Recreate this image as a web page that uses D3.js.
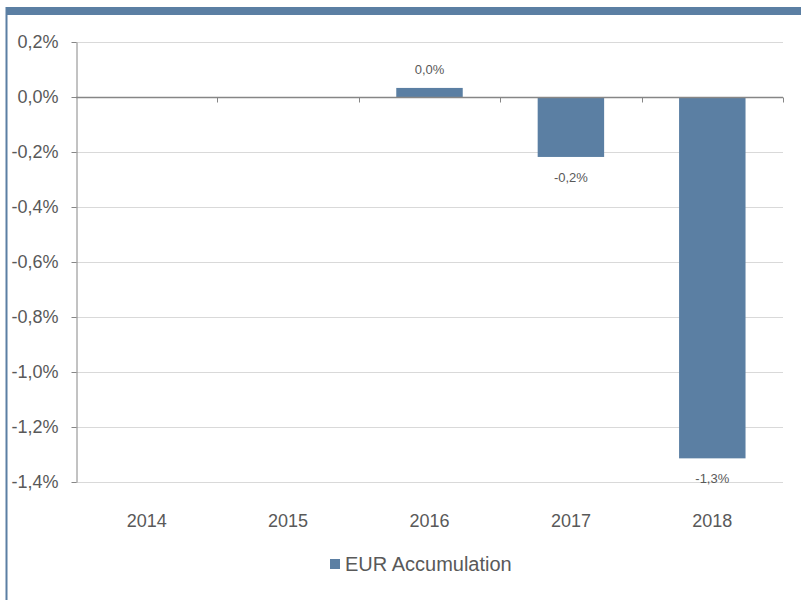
<!DOCTYPE html>
<meta charset="utf-8">
<style>
body { margin: 0; background: #fff; }
text { font-family: "Liberation Sans", Arial, sans-serif; fill: #595959; }
</style>
<body>
<script src="https://d3js.org/d3.v7.min.js"></script>
<script>

var years = ["2014", "2015", "2016", "2017", "2018"];
var values = [null, null, 0.033, -0.218, -1.314];
var labels = ["", "", "0,0%", "-0,2%", "-1,3%"];
var yTicks = [0.2, 0, -0.2, -0.4, -0.6, -0.8, -1.0, -1.2, -1.4];
var seriesName = "EUR Accumulation";

var width = 801, height = 600;
var barColor = "#5b7fa3";
var margin = {top: 42, right: 18, bottom: 118, left: 76};

var svg = d3.select("body").append("svg")
    .attr("width", width)
    .attr("height", height);

// frame: top band and left rule
svg.append("rect")
    .attr("x", 6).attr("y", 7)
    .attr("width", width - 6).attr("height", 8)
    .attr("fill", barColor);
svg.append("line")
    .attr("x1", 6.5).attr("x2", 6.5)
    .attr("y1", 7).attr("y2", height)
    .attr("stroke", barColor).attr("stroke-width", 2);

var x = d3.scaleBand()
    .domain(years)
    .range([margin.left, width - margin.right])
    .paddingInner(0.53)
    .paddingOuter(0.265);

var xb = d3.scaleBand()
    .domain(years)
    .range([margin.left, width - margin.right]);

var y = d3.scaleLinear()
    .domain([-1.4, 0.2])
    .range([height - margin.bottom, margin.top]);

var fmt = d => d3.format(".1f")(d).replace(".", ",").replace("−", "-") + "%";

// gridlines
svg.append("g")
  .selectAll("line")
  .data(yTicks.filter(d => d !== 0))
  .join("line")
    .attr("x1", margin.left).attr("x2", width - margin.right)
    .attr("y1", d => Math.round(y(d)) + 0.5)
    .attr("y2", d => Math.round(y(d)) + 0.5)
    .attr("stroke", "#d9d9d9");

// y axis
var yAxis = svg.append("g")
    .attr("transform", `translate(${margin.left + 0.5},0)`)
    .call(d3.axisLeft(y).tickValues(yTicks).tickFormat(fmt).tickSize(5).tickPadding(13).tickSizeOuter(0));
yAxis.select(".domain").attr("stroke", "#868686");
yAxis.selectAll(".tick line").attr("stroke", "#868686");
yAxis.selectAll(".tick text")
    .attr("font-size", 18)
    .attr("fill", "#595959")
    .style("font-family", "'Liberation Sans', Arial, sans-serif");

// bars
svg.append("g")
  .selectAll("rect")
  .data(values.map((v, i) => ({year: years[i], v: v})).filter(d => d.v !== null))
  .join("rect")
    .attr("x", d => x(d.year))
    .attr("width", x.bandwidth())
    .attr("y", d => y(Math.max(0, d.v)))
    .attr("height", d => Math.abs(y(d.v) - y(0)))
    .attr("fill", barColor);

// x axis at zero
var zeroY = Math.round(y(0)) + 0.5;
svg.append("line")
    .attr("x1", margin.left).attr("x2", width - margin.right)
    .attr("y1", zeroY).attr("y2", zeroY)
    .attr("stroke", "#868686").attr("stroke-width", 1.5);
svg.append("g")
  .selectAll("line")
  .data(years.map(d => xb(d)).concat([width - margin.right]).slice(1))
  .join("line")
    .attr("x1", d => Math.round(d) + 0.5).attr("x2", d => Math.round(d) + 0.5)
    .attr("y1", zeroY).attr("y2", zeroY + 5)
    .attr("stroke", "#868686");

// category labels
svg.append("g")
  .selectAll("text")
  .data(years)
  .join("text")
    .attr("x", d => xb(d) + xb.bandwidth() / 2)
    .attr("y", 527)
    .attr("text-anchor", "middle")
    .attr("font-size", 18)
    .text(d => d);

// value labels
svg.append("g")
  .selectAll("text")
  .data(values.map((v, i) => ({year: years[i], v: v, l: labels[i]})).filter(d => d.v !== null))
  .join("text")
    .attr("x", d => x(d.year) + x.bandwidth() / 2)
    .attr("y", d => d.v >= 0 ? y(d.v) - 14 : y(d.v) + 25)
    .attr("text-anchor", "middle")
    .attr("font-size", 13)
    .text(d => d.l);

// legend
var legend = svg.append("g").attr("transform", "translate(330,559)");
legend.append("rect")
    .attr("width", 10).attr("height", 10)
    .attr("fill", barColor);
legend.append("text")
    .attr("x", 15).attr("y", 12)
    .attr("font-size", 20)
    .text(seriesName);

</script>
</body>
